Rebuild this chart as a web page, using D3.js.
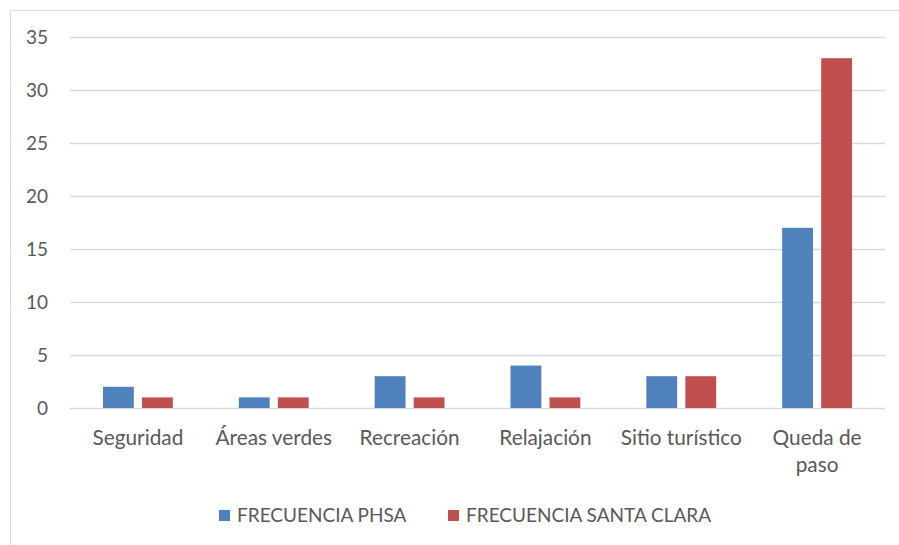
<!DOCTYPE html>
<html lang="en">
<head>
  <meta charset="utf-8">
  <script src="https://d3js.org/d3.v7.min.js"></script>
  <style>
    body { margin: 0; background: #fff; }
    text { font-family: Lato, "Open Sans", sans-serif; fill: #595959; }
  </style>
</head>
<body>
  <div id="my_dataviz"></div>
  <script>
    // chart values
    const categories = ["Seguridad", "Áreas verdes", "Recreación", "Relajación", "Sitio turístico", "Queda de paso"];
    const seriesNames = ["FRECUENCIA PHSA", "FRECUENCIA SANTA CLARA"];
    const phsa = [2, 1, 3, 4, 3, 17];
    const santaClara = [1, 1, 1, 1, 3, 33];
    const yTicks = [0, 5, 10, 15, 20, 25, 30, 35];
    const colors = ["#4f81bd", "#c0504d"];

    const data = categories.map((c, i) => ({cat: c, values: [phsa[i], santaClara[i]]}));

    const margin = {top: 37, right: 14, bottom: 137, left: 70},
        width = 899 - margin.left - margin.right,
        height = 545 - margin.top - margin.bottom;

    const root = d3.select("#my_dataviz")
      .append("svg")
        .attr("width", 899)
        .attr("height", 545);

    // chart frame (cut at right and bottom like the original)
    root.append("rect")
      .attr("x", 10.5).attr("y", 10.5)
      .attr("width", 1000).attr("height", 1000)
      .attr("fill", "none")
      .attr("stroke", "#d9d9d9");

    const svg = root.append("g")
      .attr("transform", `translate(${margin.left},${margin.top})`);

    const x = d3.scaleBand()
      .range([0, width])
      .domain(categories);

    const xSub = d3.scaleBand()
      .domain([0, 1])
      .range([33, x.bandwidth() - 33])
      .paddingInner(0.21);

    const y = d3.scaleLinear()
      .domain([0, 35])
      .range([height, 0]);

    // gridlines
    svg.append("g")
      .selectAll("line")
      .data(yTicks)
      .join("line")
        .attr("x1", 0)
        .attr("x2", width)
        .attr("y1", d => Math.round(y(d)) + 0.5)
        .attr("y2", d => Math.round(y(d)) + 0.5)
        .attr("stroke", "#d9d9d9")
        .attr("stroke-width", 1.5);

    // Y axis labels
    const yAxis = svg.append("g")
      .call(d3.axisLeft(y).tickValues(yTicks).tickSize(0).tickPadding(22));
    yAxis.select(".domain").remove();
    yAxis.selectAll("text")
      .style("font-size", "19px")
      .style("font-family", "Lato, sans-serif")
      .attr("fill", "#595959");

    // Bars
    svg.append("g")
      .selectAll("g")
      .data(data)
      .join("g")
        .attr("transform", d => `translate(${x(d.cat)},0)`)
      .selectAll("rect")
      .data(d => d.values)
      .join("rect")
        .attr("x", (d, i) => xSub(i))
        .attr("y", d => y(d))
        .attr("width", xSub.bandwidth())
        .attr("height", d => height - y(d))
        .attr("fill", (d, i) => colors[i]);

    // X axis labels (wrapped like Excel)
    const xLabels = svg.append("g")
      .selectAll("text")
      .data(categories)
      .join("text")
        .attr("x", d => x(d) + x.bandwidth() / 2)
        .attr("y", height + 37)
        .attr("text-anchor", "middle")
        .style("font-size", "20.8px");
    xLabels.each(function(d) {
      const lines = d === "Queda de paso" ? ["Queda de", "paso"] : [d];
      d3.select(this).selectAll("tspan")
        .data(lines)
        .join("tspan")
          .attr("x", x(d) + x.bandwidth() / 2)
          .attr("dy", (l, i) => i === 0 ? 0 : 27)
          .text(l => l);
    });

    // Legend
    const legendX = [219, 448];
    const legend = root.append("g")
      .selectAll("g")
      .data(seriesNames)
      .join("g")
        .attr("transform", (d, i) => `translate(${legendX[i]},510)`);
    legend.append("rect")
      .attr("width", 11)
      .attr("height", 11)
      .attr("fill", (d, i) => colors[i]);
    legend.append("text")
      .attr("x", 18)
      .attr("y", 12)
      .style("font-size", "19px")
      .text(d => d);
  </script>
</body>
</html>
